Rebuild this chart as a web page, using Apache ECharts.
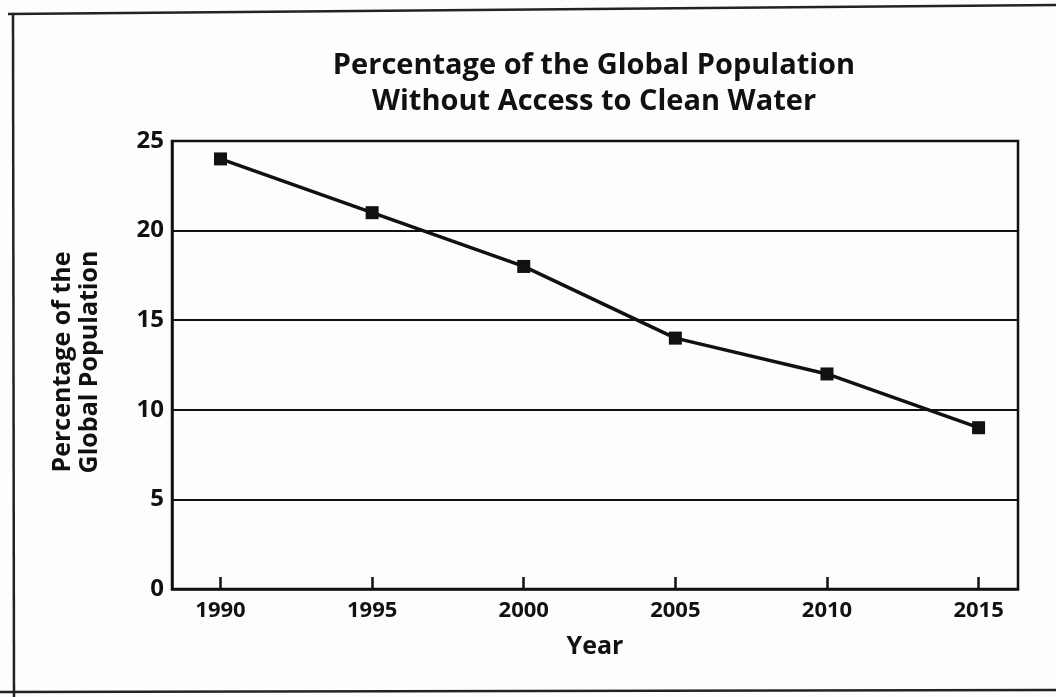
<!DOCTYPE html>
<html>
<head>
<meta charset="utf-8">
<script src="https://cdn.jsdelivr.net/npm/echarts@6/dist/echarts.min.js"></script>
<style>
  html, body { margin: 0; padding: 0; background: #fdfdfc; }
  #chart { width: 1056px; height: 697px; }
</style>
</head>
<body>
<div id="chart"></div>
<script>
// Share of the world's population lacking clean water, by year
const years = [1990, 1995, 2000, 2005, 2010, 2015];
const percentWithoutWater = [24, 21, 18, 14, 12, 9];
const yTicks = [0, 5, 10, 15, 20, 25];

const titleText = 'Percentage of the Global Population\nWithout Access to Clean Water';
const xAxisName = 'Year';
const yAxisName = 'Percentage of the\nGlobal Population';

const FONT = '"Open Sans", Lato, sans-serif';
const INK = '#111';

const chart = echarts.init(document.getElementById('chart'), null, { renderer: 'canvas' });

chart.setOption({
  backgroundColor: '#fdfdfc',
  animation: false,
  title: {
    text: titleText,
    left: 589,
    top: 43,
    textAlign: 'center',
    textStyle: {
      fontFamily: FONT,
      fontSize: 29,
      fontWeight: 'bold',
      color: INK,
      lineHeight: 36,
      align: 'center'
    }
  },
  graphic: [
    // outer frame: top, left and bottom rules
    { type: 'line', shape: { x1: 8, y1: 14, x2: 1056, y2: 5 }, style: { stroke: '#222', lineWidth: 2.5 } },
    { type: 'line', shape: { x1: 13, y1: 13, x2: 14, y2: 697 }, style: { stroke: '#222', lineWidth: 2.5 } },
    { type: 'line', shape: { x1: 0, y1: 692, x2: 1056, y2: 690 }, style: { stroke: '#222', lineWidth: 2.5 } },
    // y axis title, two lines reading bottom to top
    {
      type: 'text',
      x: 76,
      y: 362,
      rotation: Math.PI / 2,
      style: {
        text: yAxisName,
        fontFamily: FONT,
        fontSize: 25,
        fontWeight: 'bold',
        fill: INK,
        lineHeight: 27,
        align: 'center',
        verticalAlign: 'middle'
      }
    }
  ],
  grid: {
    left: 172, right: 38, top: 141, bottom: 108,
    show: true, borderColor: INK, borderWidth: 2.5, backgroundColor: 'transparent'
  },
  xAxis: {
    type: 'value',
    min: 1988.4,
    max: 2016.3,
    name: xAxisName,
    nameLocation: 'middle',
    nameGap: 45,
    nameTextStyle: { fontFamily: FONT, fontSize: 25, fontWeight: 'bold', color: INK },
    axisLine: { show: true, lineStyle: { color: INK, width: 2.5 } },
    axisTick: { show: true, inside: true, length: 12, customValues: years, lineStyle: { color: INK, width: 2.5 } },
    axisLabel: {
      customValues: years,
      formatter: v => String(v),
      fontFamily: FONT, fontSize: 22, fontWeight: 'bold', color: INK, margin: 11
    },
    splitLine: { show: false }
  },
  yAxis: {
    type: 'value',
    min: 0,
    max: 25,
    interval: 5,
    axisLine: { show: true, lineStyle: { color: INK, width: 2.5 } },
    axisTick: { show: false },
    axisLabel: {
      customValues: yTicks,
      fontFamily: FONT, fontSize: 24, fontWeight: 'bold', color: INK, margin: 8
    },
    splitLine: { show: true, lineStyle: { color: INK, width: 2 } }
  },
  series: [{
    type: 'line',
    data: years.map((y, i) => [y, percentWithoutWater[i]]),
    symbol: 'rect',
    symbolSize: 13,
    lineStyle: { color: INK, width: 3.5 },
    itemStyle: { color: INK },
    z: 5
  }]
});
</script>
</body>
</html>
